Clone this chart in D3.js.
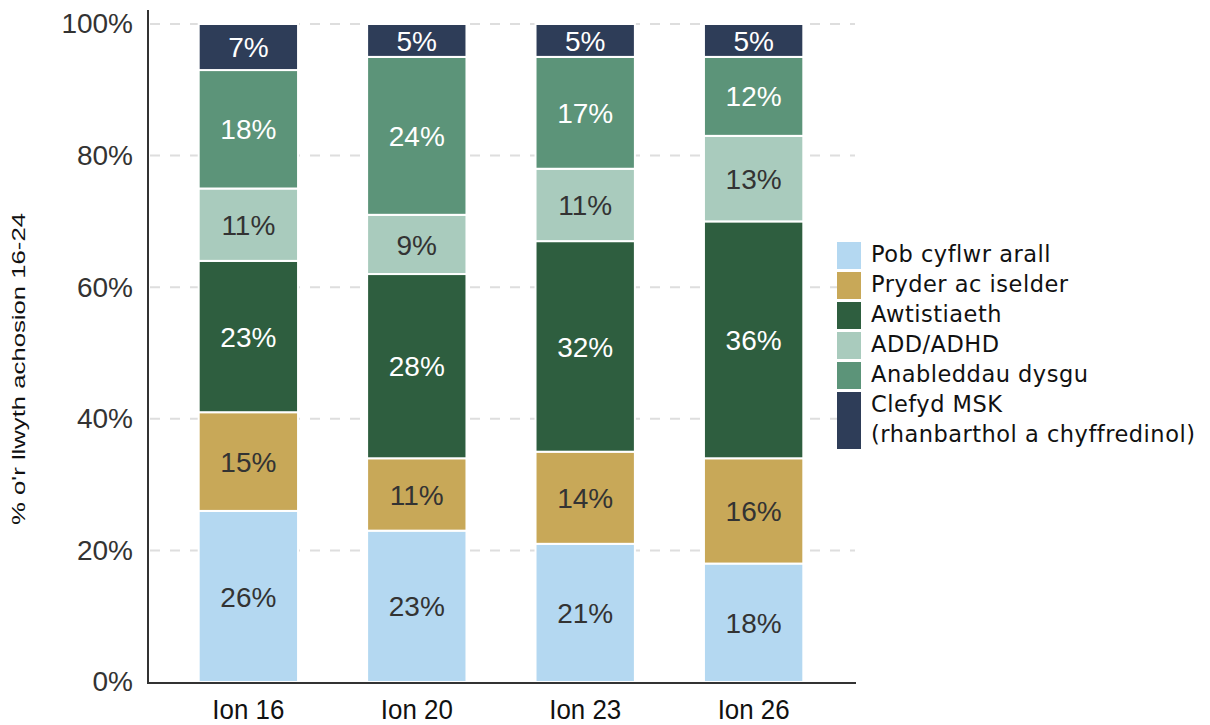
<!DOCTYPE html>
<html>
<head>
<meta charset="utf-8">
<script src="https://cdn.jsdelivr.net/npm/d3@7"></script>
<style>
  html, body { margin: 0; padding: 0; background: #fff; }
  svg { display: block; }
</style>
</head>
<body>
<div id="chart"></div>
<script>
// categories and series (bottom to top of each stack)
const categories = ["Ion 16", "Ion 20", "Ion 23", "Ion 26"];
const seriesNames = [
  "Pob cyflwr arall",
  "Pryder ac iselder",
  "Awtistiaeth",
  "ADD/ADHD",
  "Anableddau dysgu",
  "Clefyd MSK (rhanbarthol a chyffredinol)"
];
const pobCyflwr = [26, 23, 21, 18];
const pryder = [15, 11, 14, 16];
const awtistiaeth = [23, 28, 32, 36];
const addAdhd = [11, 9, 11, 13];
const anableddau = [18, 24, 17, 12];
const clefydMsk = [7, 5, 5, 5];
const yTicks = [0, 20, 40, 60, 80, 100];

const colors = ["#b4d8f1", "#c8a858", "#2e5e3f", "#a9cbbd", "#5c9479", "#2e3d58"];
const labelColors = ["#333", "#333", "#fff", "#333", "#fff", "#fff"];

const seriesValues = [pobCyflwr, pryder, awtistiaeth, addAdhd, anableddau, clefydMsk];
const rows = categories.map((c, i) => {
  const r = { cat: c };
  seriesNames.forEach((s, j) => (r[s] = seriesValues[j][i]));
  return r;
});
const stacked = d3.stack().keys(seriesNames)(rows);

const width = 1210, height = 725;
const svg = d3.select("#chart").append("svg")
  .attr("width", width).attr("height", height);

const x = d3.scaleBand().domain(categories).range([165, 837]).paddingInner(0.41).paddingOuter(0.2);
const y = d3.scaleLinear().domain([0, 100]).range([682, 24]);

// gridlines
svg.append("g").selectAll("line").data(yTicks.slice(1)).join("line")
  .attr("x1", 150).attr("x2", 855)
  .attr("y1", d => y(d)).attr("y2", d => y(d))
  .attr("stroke", "#dedede").attr("stroke-width", 2)
  .attr("stroke-dasharray", "10,10");

// bars
const layer = svg.append("g").selectAll("g").data(stacked).join("g")
  .attr("fill", (d, i) => colors[i]);
layer.selectAll("rect").data(d => d.map(v => v)).join("rect")
  .attr("x", d => x(d.data.cat))
  .attr("width", x.bandwidth())
  .attr("y", d => y(d[1]))
  .attr("height", d => y(d[0]) - y(d[1]))
  .attr("stroke", "#fff").attr("stroke-width", 2);

// value labels
svg.append("g").selectAll("g").data(stacked).join("g")
  .attr("fill", (d, i) => labelColors[i])
  .selectAll("text").data(d => d).join("text")
  .attr("x", d => x(d.data.cat) + x.bandwidth() / 2)
  .attr("y", d => (y(d[0]) + y(d[1])) / 2)
  .attr("dy", "0.36em")
  .attr("text-anchor", "middle")
  .style("font-family", "'Liberation Sans', Arial, sans-serif")
  .style("font-size", "28px")
  .text(d => (d[1] - d[0]) + "%");

// y axis
const yAxis = svg.append("g").attr("transform", "translate(148,0)")
  .call(d3.axisLeft(y).tickValues(yTicks).tickFormat(d => d + "%").tickSize(0).tickPadding(15));
yAxis.select(".domain").remove();
yAxis.selectAll("text")
  .style("font-family", "'Liberation Sans', Arial, sans-serif")
  .style("font-size", "28px").attr("fill", "#333");
svg.append("line").attr("x1", 148).attr("x2", 148).attr("y1", 10).attr("y2", 684)
  .attr("stroke", "#333").attr("stroke-width", 2);

// x axis (labels a little condensed like the original)
const xAxis = svg.append("g").attr("transform", "translate(0,683)")
  .call(d3.axisBottom(x).tickSize(0).tickPadding(0));
xAxis.select(".domain").remove();
xAxis.selectAll("text")
  .attr("dy", null)
  .attr("y", 36)
  .attr("textLength", 72)
  .attr("lengthAdjust", "spacingAndGlyphs")
  .style("font-family", "'Liberation Sans', Arial, sans-serif")
  .style("font-size", "28px").attr("fill", "#111");
svg.append("line").attr("x1", 147).attr("x2", 856).attr("y1", 683).attr("y2", 683)
  .attr("stroke", "#333").attr("stroke-width", 2);

// y title
svg.append("text")
  .attr("transform", "translate(25,369) rotate(-90)")
  .attr("text-anchor", "middle")
  .attr("textLength", 312)
  .attr("lengthAdjust", "spacingAndGlyphs")
  .style("font-family", "'Liberation Sans', Arial, sans-serif")
  .style("font-size", "19px").attr("fill", "#111")
  .text("% o'r llwyth achosion 16-24");

// legend
const legendItems = [
  { name: "Pob cyflwr arall", lines: ["Pob cyflwr arall"] },
  { name: "Pryder ac iselder", lines: ["Pryder ac iselder"] },
  { name: "Awtistiaeth", lines: ["Awtistiaeth"] },
  { name: "ADD/ADHD", lines: ["ADD/ADHD"] },
  { name: "Anableddau dysgu", lines: ["Anableddau dysgu"] },
  { name: "Clefyd MSK", lines: ["Clefyd MSK", "(rhanbarthol a chyffredinol)"] }
];
const lg = svg.append("g").attr("transform", "translate(837,242)");
let ly = 0;
legendItems.forEach((it, i) => {
  const h = it.lines.length * 30 - 3;
  lg.append("rect").attr("x", 0).attr("y", ly).attr("width", 24).attr("height", h)
    .attr("fill", colors[i]);
  it.lines.forEach((t, k) => {
    lg.append("text").attr("x", 34).attr("y", ly + 20 + k * 30)
      .style("font-family", "'DejaVu Sans', sans-serif")
      .style("font-size", "22.5px")
      .style("letter-spacing", "0.5px")
      .attr("fill", "#111")
      .text(t);
  });
  ly += it.lines.length * 30;
});
</script>
</body>
</html>
